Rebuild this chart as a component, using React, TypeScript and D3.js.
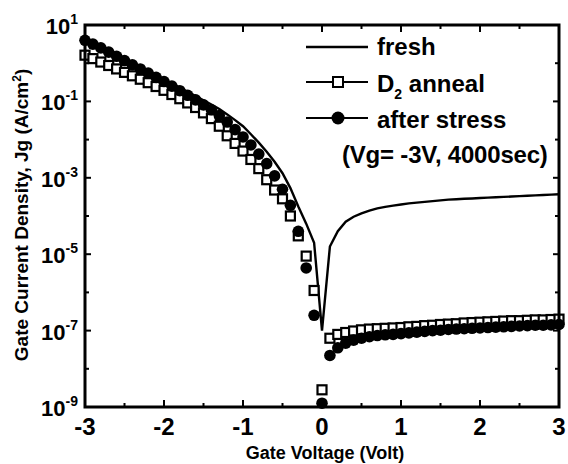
import * as d3 from "d3";

// gate voltage (V), one row per measured point
const voltages = [
  -3.0, -2.9, -2.8, -2.7, -2.6, -2.5, -2.4, -2.3, -2.2, -2.1,
  -2.0, -1.9, -1.8, -1.7, -1.6, -1.5, -1.4, -1.3, -1.2, -1.1,
  -1.0, -0.9, -0.8, -0.7, -0.6, -0.5, -0.4, -0.3, -0.2, -0.1,
  0.0, 0.1, 0.2, 0.3, 0.4, 0.5, 0.6, 0.7, 0.8, 0.9,
  1.0, 1.1, 1.2, 1.3, 1.4, 1.5, 1.6, 1.7, 1.8, 1.9,
  2.0, 2.1, 2.2, 2.3, 2.4, 2.5, 2.6, 2.7, 2.8, 2.9,
  3.0,
];

// log10 of Jg (A/cm2)
const freshLogJ = [
  0.65, 0.55, 0.45, 0.35, 0.24, 0.13, 0.02, -0.09, -0.2, -0.31,
  -0.42, -0.53, -0.64, -0.75, -0.86, -0.97, -1.08, -1.2, -1.34, -1.49,
  -1.65, -1.86, -2.08, -2.32, -2.58, -2.88, -3.27, -3.75, -4.2, -4.7,
  -7.0, -4.8, -4.4, -4.15, -4.02, -3.93, -3.86, -3.8, -3.76, -3.73,
  -3.7, -3.67, -3.65, -3.63, -3.61, -3.59, -3.57, -3.56, -3.55, -3.54,
  -3.53, -3.52, -3.51, -3.5, -3.49, -3.48, -3.47, -3.46, -3.45, -3.44,
  -3.43,
];

const annealLogJ = [
  0.21, 0.12, 0.03, -0.06, -0.15, -0.24, -0.33, -0.42, -0.51, -0.61,
  -0.71, -0.82, -0.93, -1.04, -1.16, -1.3, -1.45, -1.65, -1.9, -2.1,
  -2.3, -2.52, -2.76, -3.05, -3.32, -3.55, -4.0, -4.52, -5.05, -5.95,
  -8.55, -7.2, -7.1, -7.05, -7.01, -6.98, -6.96, -6.95, -6.94, -6.93,
  -6.92, -6.9, -6.89, -6.87, -6.86, -6.84, -6.83, -6.82, -6.8, -6.79,
  -6.78, -6.77, -6.76, -6.75, -6.74, -6.74, -6.73, -6.72, -6.72, -6.71,
  -6.7,
];

const stressLogJ = [
  0.6, 0.5, 0.4, 0.29, 0.18, 0.07, -0.04, -0.15, -0.26, -0.37,
  -0.48, -0.6, -0.72, -0.84, -0.96, -1.09, -1.22, -1.37, -1.54, -1.74,
  -1.93, -2.14, -2.38, -2.63, -2.95, -3.3, -3.72, -4.4, -5.36, -6.6,
  -8.9, -7.65, -7.45, -7.33, -7.25, -7.2, -7.16, -7.13, -7.11, -7.1,
  -7.08, -7.06, -7.04, -7.02, -7.0, -6.99, -6.97, -6.96, -6.95, -6.94,
  -6.93, -6.92, -6.91, -6.9, -6.89, -6.88, -6.87, -6.86, -6.86, -6.85,
  -6.84,
];

const xTicks = [-3, -2, -1, 0, 1, 2, 3];
const yLabelExps = [1, -1, -3, -5, -7, -9];

const legendRows = ["fresh", "D2 anneal", "after stress"];

const W = 568;
const H = 464;
const font = "'Liberation Sans', Arial, sans-serif";

export default function App() {
  const x = d3.scaleLinear().domain([-3, 3]).range([85, 559]);
  const y = d3.scaleLog().domain([1e-9, 1e1]).range([407, 25]);

  const pts = (logs: number[]) =>
    voltages.map((v, i) => ({ v, j: Math.pow(10, logs[i]) }));

  const fresh = pts(freshLogJ);
  const anneal = pts(annealLogJ);
  const stress = pts(stressLogJ);

  const line = d3
    .line<{ v: number; j: number }>()
    .x((d) => x(d.v))
    .y((d) => y(d.j));

  const [x0, x1] = x.range();
  const [y0, y1] = y.range();

  const minorX = d3.range(-2.5, 3, 1);
  const decades = d3.range(-9, 2).map((e) => Math.pow(10, e));

  return (
    <svg
      width={W}
      height={H}
      style={{ position: "absolute", left: 0, top: 0, background: "#fff" }}
      fontFamily={font}
      fontWeight="bold"
    >
      {/* fresh curve */}
      <path d={line(fresh) || ""} fill="none" stroke="#000" strokeWidth={2.4} />

      {/* D2 anneal squares */}
      {anneal.map((d, i) => (
        <rect
          key={"a" + i}
          x={x(d.v) - 4.5}
          y={y(d.j) - 4.5}
          width={9}
          height={9}
          fill="#fff"
          stroke="#000"
          strokeWidth={2.2}
        />
      ))}

      {/* after stress circles */}
      {stress.map((d, i) => (
        <circle key={"s" + i} cx={x(d.v)} cy={y(d.j)} r={5.8} fill="#000" />
      ))}

      {/* frame */}
      <rect
        x={x0}
        y={y1}
        width={x1 - x0}
        height={y0 - y1}
        fill="none"
        stroke="#000"
        strokeWidth={3}
      />

      {/* x ticks, inward on bottom and top */}
      {xTicks.map((t) => (
        <g key={"xt" + t}>
          <line x1={x(t)} x2={x(t)} y1={y0} y2={y0 - 7} stroke="#000" strokeWidth={2} />
          <line x1={x(t)} x2={x(t)} y1={y1} y2={y1 + 7} stroke="#000" strokeWidth={2} />
          <text x={x(t)} y={435} textAnchor="middle" fontSize={24}>
            {t}
          </text>
        </g>
      ))}
      {minorX.map((t) => (
        <g key={"xm" + t}>
          <line x1={x(t)} x2={x(t)} y1={y0} y2={y0 - 4} stroke="#000" strokeWidth={2} />
          <line x1={x(t)} x2={x(t)} y1={y1} y2={y1 + 4} stroke="#000" strokeWidth={2} />
        </g>
      ))}

      {/* y ticks every decade */}
      {decades.map((d, i) => {
        const len = Math.round(Math.log10(d)) % 2 !== 0 ? 6 : 4;
        return (
          <g key={"yt" + i}>
            <line x1={x0} x2={x0 + len} y1={y(d)} y2={y(d)} stroke="#000" strokeWidth={2} />
            <line x1={x1} x2={x1 - len} y1={y(d)} y2={y(d)} stroke="#000" strokeWidth={2} />
          </g>
        );
      })}
      {yLabelExps.map((e) => (
        <text key={"yl" + e} x={78} y={y(Math.pow(10, e)) + 9} textAnchor="end" fontSize={22}>
          10
          <tspan fontSize={14} dy={-10}>
            {e}
          </tspan>
        </text>
      ))}

      {/* axis titles */}
      <text x={325} y={459} textAnchor="middle" fontSize={18}>
        Gate Voltage (Volt)
      </text>
      <text
        transform={`translate(28,${215}) rotate(-90)`}
        textAnchor="middle"
        fontSize={19}
      >
        Gate Current Density, Jg (A/cm
        <tspan fontSize={12} dy={-7}>
          2
        </tspan>
        <tspan dy={7}>)</tspan>
      </text>

      {/* legend */}
      <g fontSize={24}>
        <line x1={306} x2={368} y1={47} y2={47} stroke="#000" strokeWidth={2.4} />
        <text x={377} y={55}>
          {legendRows[0]}
        </text>

        <line x1={306} x2={368} y1={82} y2={82} stroke="#000" strokeWidth={2} />
        <rect x={333} y={77} width={10} height={10} fill="#fff" stroke="#000" strokeWidth={2} />
        <text x={377} y={92}>
          D
          <tspan fontSize={14} dy={7}>
            2
          </tspan>
          <tspan dy={-7}> anneal</tspan>
        </text>

        <line x1={306} x2={368} y1={118} y2={118} stroke="#000" strokeWidth={2} />
        <circle cx={338} cy={118} r={6.5} fill="#000" />
        <text x={377} y={128}>
          {legendRows[2]}
        </text>

        <text x={342} y={163} letterSpacing={-0.2}>
          (Vg= -3V, 4000sec)
        </text>
      </g>
    </svg>
  );
}
